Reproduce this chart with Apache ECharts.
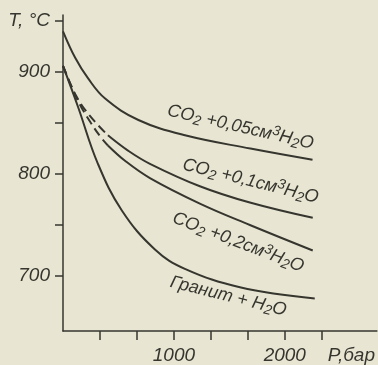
<!DOCTYPE html>
<html>
<head>
<meta charset="utf-8">
<script src="https://cdn.jsdelivr.net/npm/echarts@6/dist/echarts.min.js"></script>
<style>html,body{margin:0;padding:0;background:#e8e6d3}#c{width:378px;height:365px}</style>
</head>
<body>
<div id="c"></div>
<script>
// Pressure (bar) and temperature (°C)
const co2_005_P = [0, 110, 225, 380, 680, 1100, 1690, 2250];
const co2_005_T = [940, 914, 894, 874, 853, 838, 825, 814];

const co2_01_dash_P = [0, 117, 243, 405];
const co2_01_dash_T = [906, 877, 857, 838];
const co2_01_P = [405, 586, 784, 1234, 1685, 2252];
const co2_01_T = [838, 823, 810, 788, 772, 757];

const co2_02_dash_P = [0, 72, 153, 252, 342, 405];
const co2_02_dash_T = [906, 887, 868, 850, 836, 828];
const co2_02_P = [405, 559, 784, 1234, 1685, 2252];
const co2_02_T = [828, 813, 796, 771, 750, 725];

const granite_P = [0, 135, 315, 532, 829, 1099, 1595, 2270];
const granite_T = [906, 866, 810, 764, 726, 707, 689, 678];

const xTicks = [333.3, 666.7, 1000, 1333.3, 1666.7, 2000, 2333.3];
const xLabels = [1000, 2000];
const yTicks = [700, 750, 800, 850, 900, 950];
const yLabels = [700, 800, 900];

const zip = (a, b) => a.map((v, i) => [v, b[i]]);
const ink = '#36362f';
const font = 'Liberation Sans';

const rich = {
  n: {fontSize: 18, lineHeight: 22, verticalAlign: 'middle', fontStyle: 'italic', fontFamily: font, color: ink},
  s: {fontSize: 14, lineHeight: 12, verticalAlign: 'bottom', fontStyle: 'italic', fontFamily: font, color: ink},
  p: {fontSize: 14, lineHeight: 12, verticalAlign: 'top', fontStyle: 'italic', fontFamily: font, color: ink}
};
function note(coord, text, rot) {
  return {
    coord: coord, symbol: 'circle', symbolSize: 1, itemStyle: {color: 'rgba(0,0,0,0)'},
    label: {show: true, position: 'inside', formatter: text, rotate: rot, rich: rich}
  };
}
function line(name, P, T, dashed, notes) {
  return {
    name: name, type: 'line', data: zip(P, T), smooth: 0.4,
    showSymbol: false, silent: true,
    lineStyle: {color: ink, width: 2, type: dashed ? [9, 5] : 'solid'},
    markPoint: notes ? {silent: true, data: notes, animation: false} : undefined
  };
}

const chart = echarts.init(document.getElementById('c'));
chart.setOption({
  backgroundColor: '#e8e6d3',
  animation: false,
  grid: {left: 63, right: 1, top: 15, bottom: 34},
  xAxis: {
    type: 'value', min: 0, max: 2830,
    axisLine: {lineStyle: {color: ink, width: 1.5}},
    axisTick: {customValues: xTicks, length: 9, lineStyle: {color: ink, width: 1.5}},
    axisLabel: {
      customValues: xLabels.concat([2600]), margin: 15,
      formatter: v => v === 2600 ? 'P,бар' : String(v),
      fontSize: 19, fontStyle: 'italic', fontFamily: font, color: ink
    },
    splitLine: {show: false}
  },
  yAxis: {
    type: 'value', min: 646, max: 956,
    axisLine: {show: true, lineStyle: {color: ink, width: 1.5}},
    axisTick: {show: true, customValues: yTicks, length: 8, lineStyle: {color: ink, width: 1.5}},
    axisLabel: {
      customValues: yLabels.concat([950]), margin: 13,
      formatter: v => v === 950 ? 'T, °C' : String(v),
      fontSize: 19, fontStyle: 'italic', fontFamily: font, color: ink
    },
    splitLine: {show: false}
  },
  series: [
    line('0.05', co2_005_P, co2_005_T, false,
      [note([1600, 846], '{n|CO}{s|2}{n| +0,05см}{p|3}{n|H}{s|2}{n|O}', -13)]),
    line('0.1d', co2_01_dash_P, co2_01_dash_T, true),
    line('0.1', co2_01_P, co2_01_T, false,
      [note([1690, 793], '{n|CO}{s|2}{n| +0,1см}{p|3}{n|H}{s|2}{n|O}', -14)]),
    line('0.2d', co2_02_dash_P, co2_02_dash_T, true),
    line('0.2', co2_02_P, co2_02_T, false,
      [note([1580, 733], '{n|CO}{s|2}{n| +0,2см}{p|3}{n|H}{s|2}{n|O}', -21)]),
    line('granite', granite_P, granite_T, false,
      [note([1490, 680], '{n|Гранит + H}{s|2}{n|O}', -14)])
  ]
});
</script>
</body>
</html>
